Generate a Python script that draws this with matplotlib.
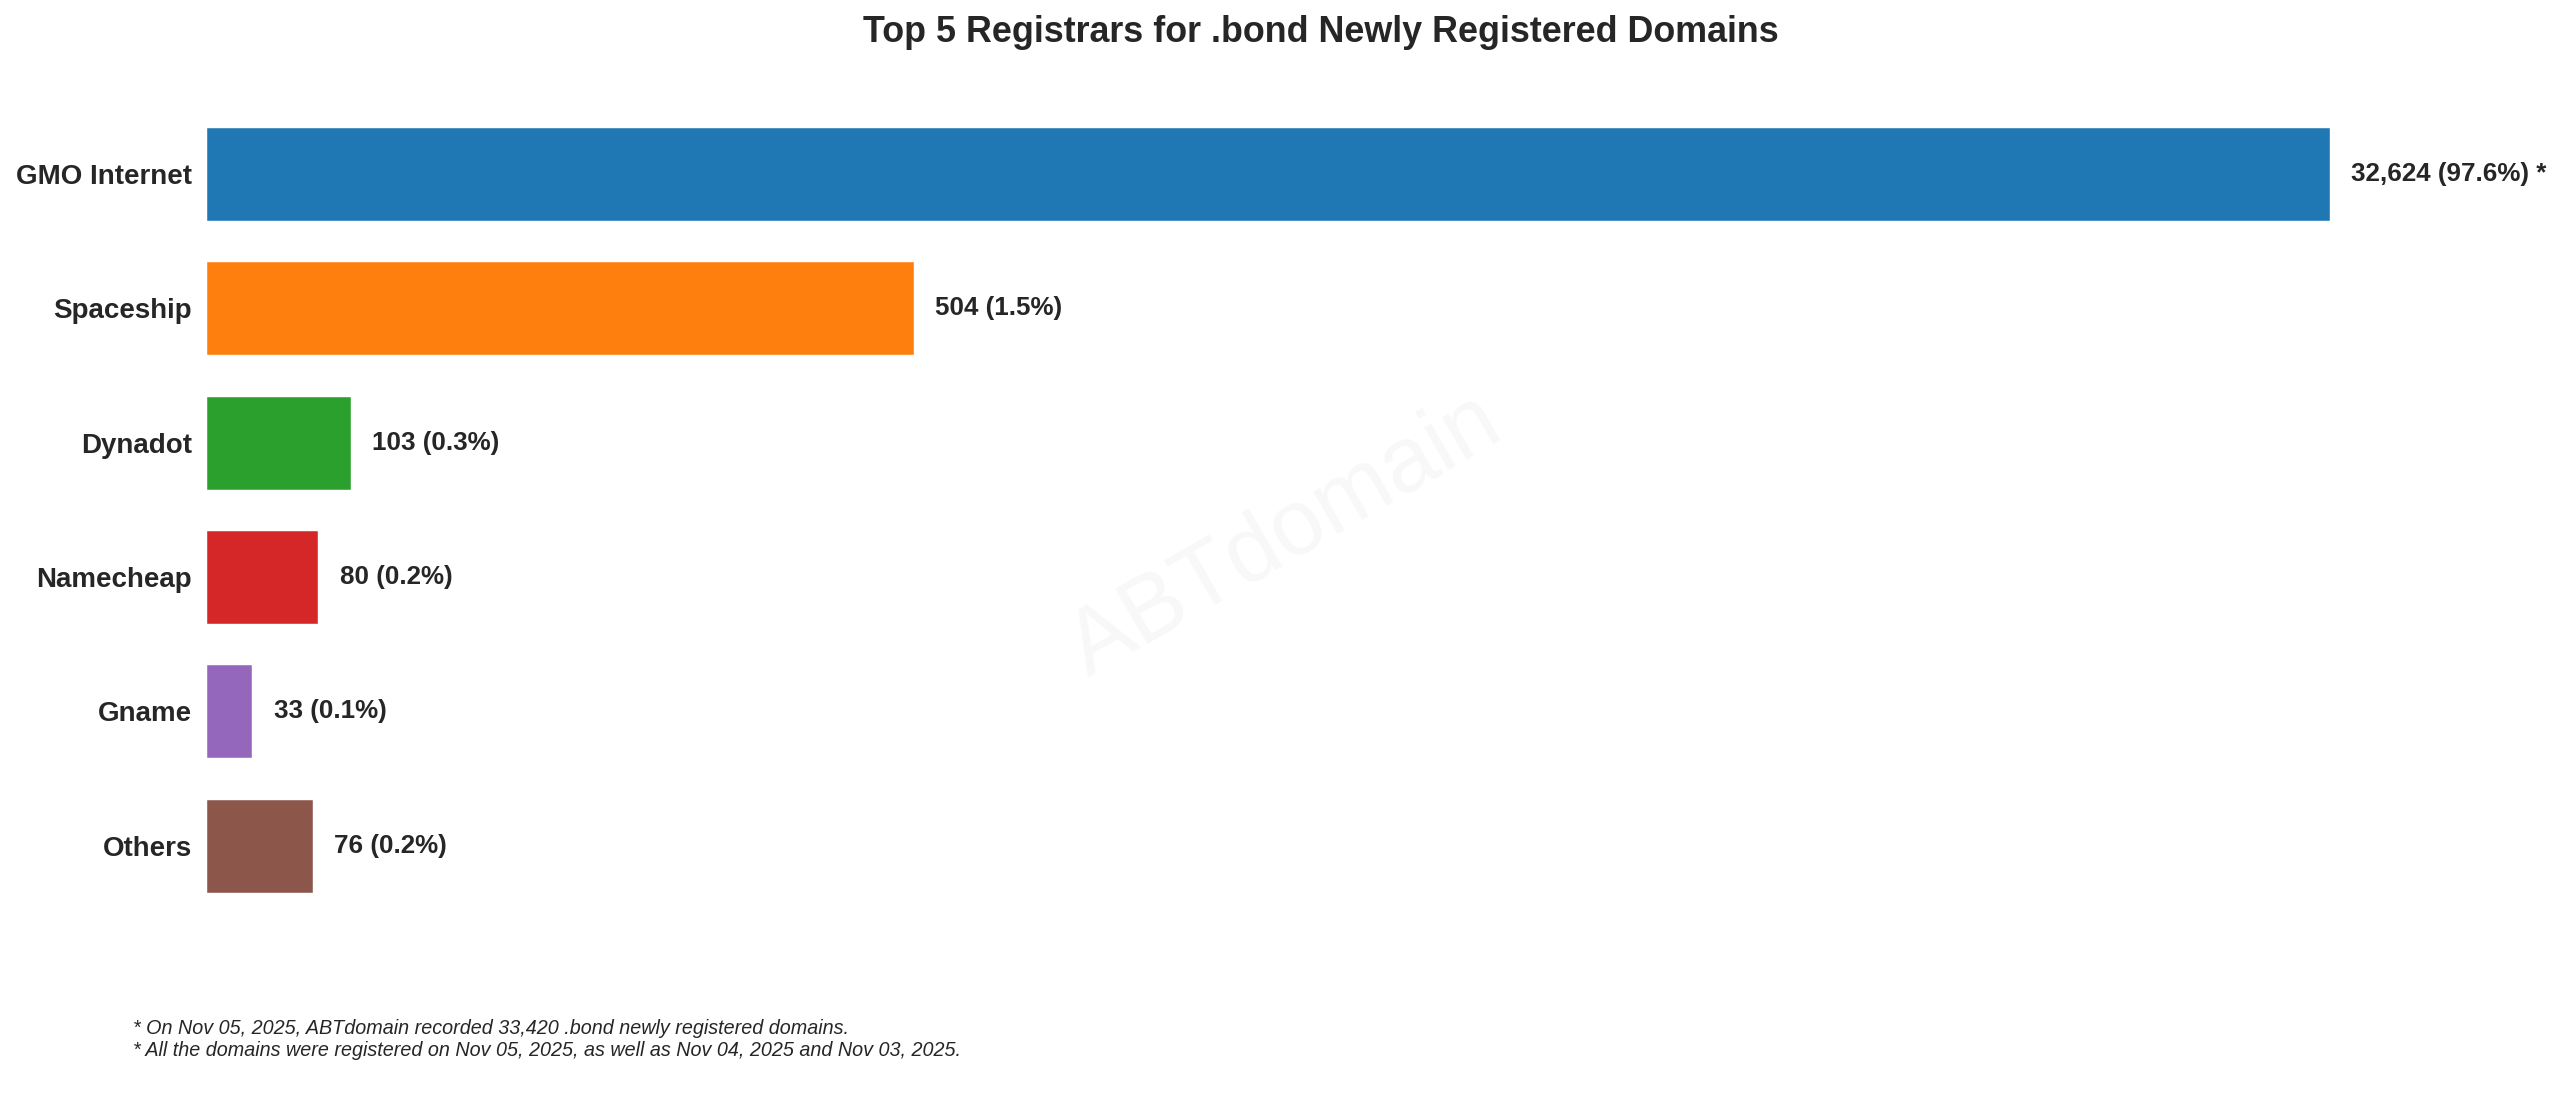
import matplotlib.pyplot as plt
import seaborn as sns

registrars = ['GMO Internet', 'Spaceship', 'Dynadot', 'Namecheap', 'Gname', 'Others']
counts = [32624, 504, 103, 80, 33, 76]
percents = [97.6, 1.5, 0.3, 0.2, 0.1, 0.2]
colors = ['#1f77b4', '#ff7f0e', '#2ca02c', '#d62728', '#9467bd', '#8c564b']

notes = ['* On Nov 05, 2025, ABTdomain recorded 33,420 .bond newly registered domains.',
         '* All the domains were registered on Nov 05, 2025, as well as Nov 04, 2025 and Nov 03, 2025.']

sns.set_style('white')
plt.rcParams['font.family'] = ['Liberation Sans', 'DejaVu Sans']

# the leader is capped at 3x the runner-up so the rest stay readable
cap = 3 * counts[1]
shown = [min(c, cap) for c in counts]

fig = plt.figure(figsize=(20, 8.547), dpi=128)
ax = fig.add_axes([0.0805, 0.149, 0.871, 0.770])

y = list(range(len(registrars)))
ax.barh(y, shown, height=0.7, color=colors, edgecolor='white', linewidth=0.8)
ax.set_yticks(y)
ax.set_yticklabels(registrars, fontsize=15.6, fontweight='bold', color='#262626')
ax.tick_params(axis='y', length=0, pad=8)
ax.set_xticks([])
ax.set_ylim(len(registrars) - 0.365, -0.635)
ax.set_xlim(0, cap * 1.05)
for s in ax.spines.values():
    s.set_visible(False)

for i, (c, p, w) in enumerate(zip(counts, percents, shown)):
    lab = f'{c:,} ({p}%)'
    if c > cap:
        lab += ' *'
    ax.text(w + cap * 0.01, i, lab, va='center', ha='left', fontsize=14.6,
            fontweight='bold', color='#262626', clip_on=False)

ax.set_title('Top 5 Registrars for .bond Newly Registered Domains', fontsize=20.2,
             fontweight='bold', color='#262626', pad=26)

fig.text(0.502, 0.51, 'ABTdomain', fontsize=52, color='gray', alpha=0.06,
         rotation=30, ha='center', va='center')

fig.text(0.052, 0.055, notes[0], fontsize=11.15, style='italic', color='#262626')
fig.text(0.052, 0.035, notes[1], fontsize=11.15, style='italic', color='#262626')

plt.savefig('out.png', dpi=128)
